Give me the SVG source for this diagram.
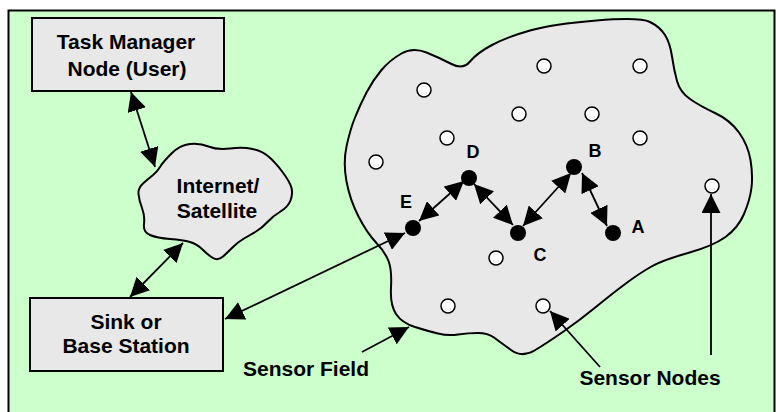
<svg xmlns="http://www.w3.org/2000/svg" width="776" height="412" viewBox="0 0 776 412">
<style>
.t{font-family:"Liberation Sans",Arial,sans-serif;font-weight:bold;font-size:21px;fill:#000;text-anchor:middle}
.l{font-family:"Liberation Sans",Arial,sans-serif;font-weight:bold;font-size:18px;fill:#000;text-anchor:middle}
.shape{fill:#E8E8E8;stroke:#000;stroke-width:2}
.box{fill:#E8E8E8;stroke:#000;stroke-width:2}
.open{fill:#fff;stroke:#000;stroke-width:1.5}
.dot{fill:#000}
.c{stroke:#000;stroke-width:1.8;fill:none}
.bi{marker-start:url(#ah);marker-end:url(#ah)}
.uni{marker-end:url(#ah)}
</style>
<defs>
<marker id="ah" viewBox="0 0 19 19" refX="19" refY="9.5" markerWidth="19" markerHeight="19" markerUnits="userSpaceOnUse" orient="auto-start-reverse">
<path d="M0,0 L19,9.5 L0,19 z" fill="#000"/>
</marker>
</defs>
<rect x="0" y="0" width="776" height="412" fill="#fff"/>
<rect x="8.5" y="10.5" width="766" height="410" fill="#CCFFCC" stroke="#000" stroke-width="2"/>

<g id="sensor-field">
<path class="shape" d="M 346.5,181.5 Q 343,163 346.5,146.5 Q 350,130 355,117.5 Q 360,105 366.5,92.5 Q 373,80 381.5,70 Q 390,60 401.5,53.5 Q 413,47 426.5,52.5 Q 440,58 451.5,64 Q 463,70 470,61.5 Q 477,53 492,45 Q 507,37 530,30.5 Q 553,24 596.5,20.5 Q 640,17 650,22 Q 660,27 665,35 Q 670,43 672,56.5 Q 674,70 677,81 Q 680,92 690,99 Q 700,106 715,113 Q 730,120 739,132.5 Q 748,145 750.5,160 Q 753,175 751.5,187.5 Q 750,200 744,214 Q 738,228 725.5,237 Q 713,246 688,253 Q 663,260 651.5,266.5 Q 640,273 626.5,283 Q 613,293 596.5,306.5 Q 580,320 563.5,331.5 Q 547,343 534.5,350.5 Q 522,358 511,350 Q 500,342 494,337.5 Q 488,333 478,333 Q 468,333 458,334.5 Q 448,336 438,333.5 Q 428,331 415,327 Q 402,323 396,314 Q 390,305 391,287.5 Q 392,270 388.5,261 Q 385,252 376,242.5 Q 367,233 358.5,216.5 Q 350,200 346.5,181.5 Z"/>
</g>

<g id="task-manager">
<rect class="box" x="32" y="18" width="192" height="73"/>
<text class="t" x="126" y="49">Task Manager</text>
<text class="t" x="127" y="76">Node (User)</text>
</g>

<g id="internet">
<path class="shape" d="M 160,167 Q 163,162 171.5,153.5 Q 180,145 190,144 Q 200,143 208.5,146.5 Q 217,150 230,148.5 Q 243,147 252.5,149 Q 262,151 268.5,156.5 Q 275,162 282.5,172 Q 290,182 291.5,188 Q 293,194 290.5,200.5 Q 288,207 280.5,211.5 Q 273,216 267.5,222 Q 262,228 256,231.5 Q 250,235 244,238.5 Q 238,242 233,247 Q 228,252 223,256.5 Q 218,261 213,258 Q 208,255 202.5,249.5 Q 197,244 190,242 Q 183,240 170,239 Q 157,238 150,235 Q 143,232 144,224 Q 145,216 142,208 Q 139,200 138.5,194 Q 138,188 143,183.5 Q 148,179 152.5,175.5 Q 157,172 160,167 Z"/>
<text class="t" x="218" y="193">Internet/</text>
<text class="t" x="217" y="218">Satellite</text>
</g>

<g id="sink">
<rect class="box" x="30" y="298" width="193" height="73"/>
<text class="t" x="126" y="329">Sink or</text>
<text class="t" x="126" y="353">Base Station</text>
</g>

<g id="sensor-nodes">
<circle class="open" cx="544" cy="66" r="7"/>
<circle class="open" cx="640" cy="66" r="7"/>
<circle class="open" cx="424" cy="90" r="7"/>
<circle class="open" cx="519" cy="114" r="7"/>
<circle class="open" cx="592" cy="114" r="7"/>
<circle class="open" cx="447" cy="138" r="7"/>
<circle class="open" cx="640" cy="138" r="7"/>
<circle class="open" cx="376" cy="162" r="7"/>
<circle class="open" cx="712" cy="186" r="7"/>
<circle class="open" cx="496" cy="258" r="7"/>
<circle class="open" cx="448" cy="306" r="7"/>
<circle class="open" cx="543" cy="306" r="7"/>
</g>

<g id="node-D"><circle class="dot" cx="469" cy="178" r="8"/><text class="l" x="473" y="158">D</text></g>
<g id="node-B"><circle class="dot" cx="574" cy="167" r="8"/><text class="l" x="595" y="157">B</text></g>
<g id="node-E"><circle class="dot" cx="413" cy="228" r="8"/><text class="l" x="406" y="208">E</text></g>
<g id="node-C"><circle class="dot" cx="518" cy="233" r="8"/><text class="l" x="540" y="261">C</text></g>
<g id="node-A"><circle class="dot" cx="613" cy="233" r="8"/><text class="l" x="638" y="233">A</text></g>

<g id="labels">
<text class="t" x="306" y="376">Sensor Field</text>
<text class="t" x="650" y="385">Sensor Nodes</text>
</g>

<g id="connectors">
<line class="c bi" x1="131" y1="92" x2="155" y2="167"/>
<line class="c bi" x1="183" y1="243" x2="130" y2="297"/>
<line class="c bi" x1="405" y1="233" x2="225" y2="319"/>
<line class="c bi" x1="419" y1="221" x2="464" y2="181"/>
<line class="c bi" x1="474" y1="184" x2="513" y2="225"/>
<line class="c bi" x1="523" y1="226" x2="571" y2="173"/>
<line class="c bi" x1="582" y1="173" x2="607" y2="226"/>
<line class="c uni" x1="362" y1="352" x2="409" y2="327"/>
<line class="c uni" x1="600" y1="367" x2="550" y2="311"/>
<line class="c uni" x1="711" y1="355" x2="711" y2="194"/>
</g>
</svg>
